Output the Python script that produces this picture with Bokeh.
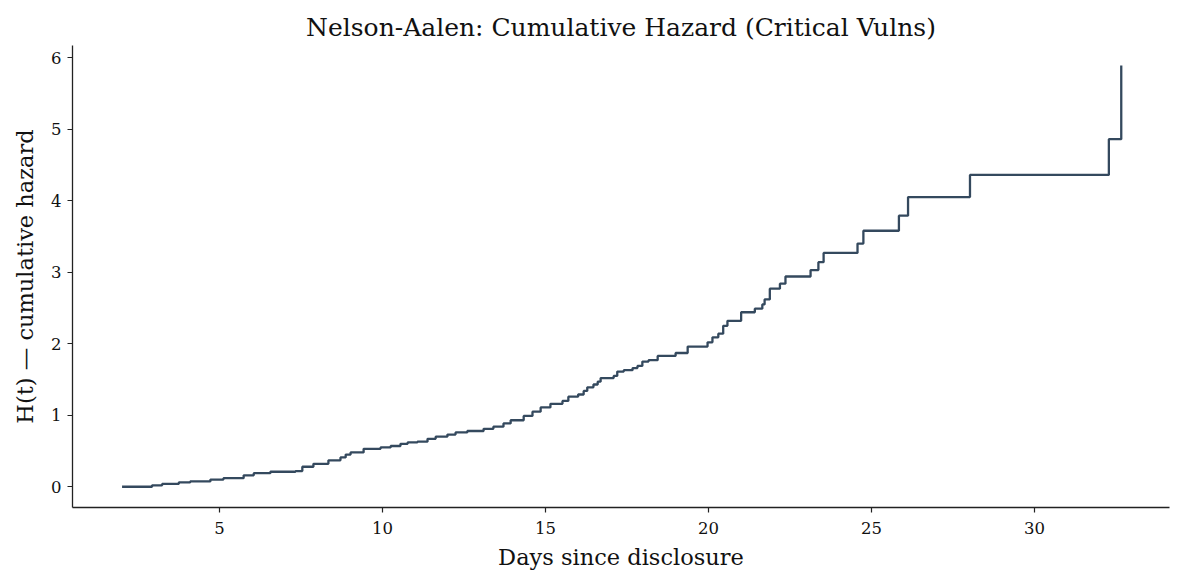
from bokeh.plotting import figure
from bokeh.models import Range1d, FixedTicker
from bokeh.embed import file_html
from bokeh.resources import INLINE

# Nelson-Aalen cumulative hazard (step, post)
days = [2.01, 2.93, 3.24, 3.75, 4.10, 4.72, 5.12, 5.74, 6.05, 6.56,
        7.33, 7.54, 7.88, 8.34, 8.71, 8.87, 9.02, 9.42, 9.94, 10.25,
        10.55, 10.77, 11.07, 11.38, 11.63, 11.99, 12.24, 12.60, 13.10, 13.40,
        13.71, 13.93, 14.33, 14.60, 14.85, 15.15, 15.52, 15.70, 16.00, 16.17,
        16.28, 16.47, 16.60, 16.69, 17.09, 17.20, 17.40, 17.67, 17.82, 17.97,
        18.16, 18.44, 18.99, 19.36, 19.97, 20.12, 20.30, 20.45, 20.58, 21.00,
        21.42, 21.65, 21.72, 21.88, 22.19, 22.36, 23.13, 23.37, 23.53, 24.57,
        24.75, 25.84, 26.12, 28.02, 32.28, 32.66]
hazard = [0, 0.02, 0.04, 0.06, 0.075, 0.10, 0.12, 0.16, 0.19, 0.21,
          0.22, 0.28, 0.32, 0.37, 0.41, 0.45, 0.48, 0.53, 0.55, 0.57,
          0.60, 0.62, 0.63, 0.67, 0.70, 0.73, 0.76, 0.78, 0.81, 0.84,
          0.885, 0.93, 0.99, 1.05, 1.11, 1.16, 1.20, 1.26, 1.29, 1.34,
          1.39, 1.43, 1.47, 1.52, 1.55, 1.61, 1.63, 1.66, 1.69, 1.75,
          1.77, 1.83, 1.87, 1.96, 2.02, 2.09, 2.14, 2.25, 2.32, 2.44,
          2.49, 2.55, 2.62, 2.77, 2.84, 2.94, 3.03, 3.14, 3.27, 3.40,
          3.58, 3.79, 4.05, 4.36, 4.86, 5.89]
x_ticks = [5, 10, 15, 20, 25, 30]
y_ticks = [0, 1, 2, 3, 4, 5, 6]

FONT = "DejaVu Serif"

p = figure(width=1185, height=585, output_backend="svg", toolbar_location=None,
           x_range=Range1d(0.49, 34.14), y_range=Range1d(-0.29, 6.17),
           min_border_left=72, min_border_right=16, min_border_top=45,
           min_border_bottom=78)

p.step(days, hazard, mode="after", line_color="#34495e", line_width=2.3)

p.title.text = "Nelson-Aalen: Cumulative Hazard (Critical Vulns)"
p.title.align = "center"
p.title.text_font = FONT
p.title.text_font_size = "25px"
p.title.text_font_style = "normal"
p.title.text_color = "#111111"
p.title.standoff = 8

p.outline_line_color = None
p.background_fill_color = "white"
p.border_fill_color = "white"
p.grid.grid_line_color = None

for ax in (p.xaxis[0], p.yaxis[0]):
    ax.axis_line_color = "#222222"
    ax.axis_line_width = 1.3
    ax.major_tick_line_color = "#222222"
    ax.major_tick_line_width = 1.2
    ax.major_tick_out = 5
    ax.major_tick_in = 0
    ax.minor_tick_line_color = None
    ax.major_label_text_font = FONT
    ax.major_label_text_font_size = "16.5px"
    ax.major_label_text_color = "#111111"
    ax.axis_label_text_font = FONT
    ax.axis_label_text_font_size = "22.5px"
    ax.axis_label_text_font_style = "normal"
    ax.axis_label_text_color = "#111111"

p.xaxis.ticker = FixedTicker(ticks=x_ticks)
p.yaxis.ticker = FixedTicker(ticks=y_ticks)
p.xaxis.axis_label = "Days since disclosure"
p.yaxis.axis_label = "H(t) — cumulative hazard"
p.xaxis.major_label_standoff = 9
p.yaxis.major_label_standoff = 6
p.xaxis.axis_label_standoff = 7
p.yaxis.axis_label_standoff = 10

open("out.html", "w").write(file_html(p, INLINE))
